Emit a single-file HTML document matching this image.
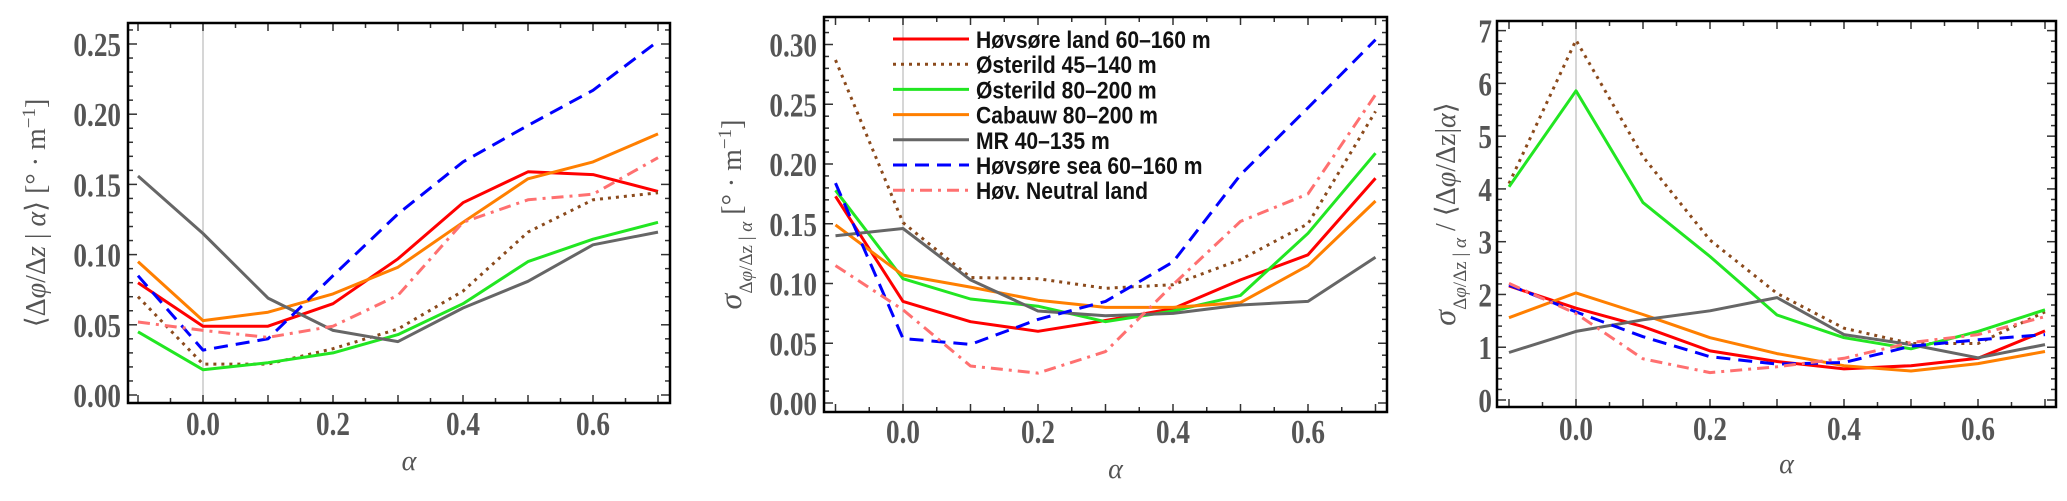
<!DOCTYPE html>
<html><head><meta charset="utf-8">
<style>
html,body{margin:0;padding:0;background:#fff;}
svg{display:block;}
text{font-family:"Liberation Serif",serif;}
.tl{font-weight:bold;fill:#555;font-size:34px;}
.leg{font-family:"Liberation Sans",sans-serif;font-weight:bold;font-size:24px;fill:#111;}
.ttl{fill:#555;font-size:28px;}
</style></head><body>
<svg id="chart" width="2067" height="501" viewBox="0 0 2067 501" xmlns="http://www.w3.org/2000/svg"></svg>
<script>
const alphas = [-0.1, 0, 0.1, 0.2, 0.3, 0.4, 0.5, 0.6, 0.7];
const seriesNames = ["Høvsøre land 60–160 m","Østerild 45–140 m","Østerild 80–200 m","Cabauw 80–200 m","MR 40–135 m","Høvsøre sea 60–160 m","Høv. Neutral land"];
// Panel 1: mean gradient
const meanHovLand  = [0.080,0.049,0.049,0.065,0.097,0.137,0.159,0.157,0.145];
const meanOst45    = [0.070,0.022,0.022,0.033,0.047,0.074,0.116,0.139,0.144];
const meanOst80    = [0.045,0.018,0.023,0.030,0.043,0.065,0.095,0.111,0.123];
const meanCabauw   = [0.095,0.053,0.059,0.072,0.091,0.123,0.154,0.166,0.186];
const meanMR       = [0.156,0.115,0.069,0.046,0.038,0.062,0.081,0.107,0.116];
const meanHovSea   = [0.085,0.032,0.040,0.085,0.129,0.166,0.192,0.217,0.252];
const meanHovNeut  = [0.052,0.046,0.041,0.049,0.071,0.123,0.139,0.143,0.169];
// Panel 2: std dev
const sdHovLand  = [0.173,0.085,0.068,0.060,0.069,0.079,0.103,0.124,0.188];
const sdOst45    = [0.287,0.151,0.105,0.104,0.096,0.099,0.120,0.150,0.244];
const sdOst80    = [0.178,0.104,0.087,0.081,0.068,0.077,0.090,0.142,0.209];
const sdCabauw   = [0.149,0.107,0.097,0.086,0.080,0.080,0.084,0.115,0.169];
const sdMR       = [0.140,0.146,0.103,0.077,0.073,0.075,0.082,0.085,0.122];
const sdHovSea   = [0.184,0.054,0.049,0.070,0.085,0.118,0.191,0.247,0.304];
const sdHovNeut  = [0.115,0.078,0.031,0.025,0.043,0.099,0.152,0.175,0.258];
// Panel 3: ratio
const rHovLand  = [2.16,1.74,1.39,0.93,0.73,0.59,0.65,0.79,1.31];
const rOst45    = [4.10,6.82,4.61,3.03,2.02,1.36,1.07,1.07,1.67];
const rOst80    = [4.04,5.86,3.74,2.72,1.61,1.18,0.97,1.30,1.71];
const rCabauw   = [1.56,2.03,1.62,1.18,0.88,0.65,0.55,0.69,0.92];
const rMR       = [0.90,1.30,1.52,1.69,1.94,1.24,1.05,0.80,1.05];
const rHovSea   = [2.18,1.67,1.20,0.82,0.68,0.71,1.02,1.14,1.24];
const rHovNeut  = [2.21,1.64,0.78,0.52,0.63,0.79,1.09,1.24,1.58];
const xTickLabels = ["0.0","0.2","0.4","0.6"];
const y1Ticks = ["0.00","0.05","0.10","0.15","0.20","0.25"];
const y2Ticks = ["0.00","0.05","0.10","0.15","0.20","0.25","0.30"];
const y3Ticks = ["0","1","2","3","4","5","6","7"];

const NS="http://www.w3.org/2000/svg";
const svg=document.getElementById('chart');
function mk(tag,attrs,parent){const e=document.createElementNS(NS,tag);for(const k in attrs)e.setAttribute(k,attrs[k]);(parent||svg).appendChild(e);return e;}

const styles=[
 {c:"#ff0000",d:""},
 {c:"#8b4a1c",d:"3,5"},
 {c:"#22e622",d:""},
 {c:"#ff7f00",d:""},
 {c:"#666666",d:""},
 {c:"#0000ff",d:"14,8"},
 {c:"#ff7070",d:"12,6,3,6"}
];
const slugs=["hovsore-land","osterild-45-140","osterild-80-200","cabauw","mr","hovsore-sea","hov-neutral-land"];

const panels=[
 {id:"mean",fx0:128,fx1:670,fy0:23,fy1:403,x0:203,xs:650,y0:395,ys:1404,yt:y1Ticks,ystep:0.05,yminor:0.01,yl:121,xly:435,aly:470,
  data:[meanHovLand,meanOst45,meanOst80,meanCabauw,meanMR,meanHovSea,meanHovNeut],tx:36,
  title:'⟨Δ<tspan font-style="italic">φ</tspan>/Δ<tspan font-style="italic">z</tspan> | <tspan font-style="italic">α</tspan>⟩    [° · m<tspan baseline-shift="super" font-size="19">−1</tspan>]'},
 {id:"sd",fx0:824,fx1:1387,fy0:17,fy1:412,x0:903,xs:675,y0:403,ys:1195,yt:y2Ticks,ystep:0.05,yminor:0.01,yl:817,xly:443,aly:478,
  data:[sdHovLand,sdOst45,sdOst80,sdCabauw,sdMR,sdHovSea,sdHovNeut],tx:732,
  title:'<tspan font-style="italic" font-size="32">σ</tspan><tspan baseline-shift="sub" font-size="19">Δ<tspan font-style="italic">φ</tspan>/Δz | <tspan font-style="italic">α</tspan></tspan>   [° · m<tspan baseline-shift="super" font-size="19">−1</tspan>]'},
 {id:"ratio",fx0:1497,fx1:2056,fy0:21,fy1:407,x0:1576,xs:670,y0:400,ys:52.77,yt:y3Ticks,ystep:1,yminor:0.2,yl:1492,xly:440,aly:473,
  data:[rHovLand,rOst45,rOst80,rCabauw,rMR,rHovSea,rHovNeut],tx:1446,
  title:'<tspan font-style="italic" font-size="32">σ</tspan><tspan baseline-shift="sub" font-size="19">Δ<tspan font-style="italic">φ</tspan>/Δz | <tspan font-style="italic">α</tspan></tspan> / ⟨Δ<tspan font-style="italic">φ</tspan>/Δz|<tspan font-style="italic">α</tspan>⟩'}
];

panels.forEach((p)=>{
  const g=mk('g',{});
  
  
  const X=v=>p.x0+p.xs*v, Y=v=>p.y0-p.ys*v;
  const zl=mk('line',{x1:X(0),x2:X(0),y1:p.fy0,y2:p.fy1,stroke:"#c8c8c8","stroke-width":1.5},g);
  
  
  for(let i=-2;i<=14;i++){const v=i*0.05;const px=X(v);if(px<p.fx0||px>p.fx1)continue;
    const L=(i%2===0)?8:5;
    mk('line',{x1:px,x2:px,y1:p.fy1,y2:p.fy1-L,stroke:"#333","stroke-width":1.5},g);
    mk('line',{x1:px,x2:px,y1:p.fy0,y2:p.fy0+L,stroke:"#333","stroke-width":1.5},g);}
  xTickLabels.forEach((t)=>{const v=parseFloat(t);
    const tx=mk('text',{x:0,y:0,"text-anchor":"middle",class:"tl",transform:`translate(${X(v)},${p.xly}) scale(0.8,1)`},g);tx.textContent=t;
    
    });
  const ymax=parseFloat(p.yt[p.yt.length-1]);
  const nMinor=Math.round((ymax+p.ystep*0.6)/p.yminor);
  for(let i=0;i<=nMinor;i++){const v=i*p.yminor;const py=Y(v);if(py<p.fy0+1)continue;
    const major=Math.abs(v/p.ystep-Math.round(v/p.ystep))<1e-6;const L=major?9:5;
    mk('line',{x1:p.fx0,x2:p.fx0+L,y1:py,y2:py,stroke:"#333","stroke-width":1.5},g);
    mk('line',{x1:p.fx1,x2:p.fx1-L,y1:py,y2:py,stroke:"#333","stroke-width":1.5},g);}
  p.yt.forEach((t)=>{const v=parseFloat(t);
    const tx=mk('text',{x:0,y:0,"text-anchor":"end",class:"tl",transform:`translate(${p.yl},${Y(v)+12}) scale(0.8,1)`},g);tx.textContent=t;
    
    });
  p.data.forEach((arr,si)=>{const pts=arr.map((v,i)=>X(alphas[i]).toFixed(1)+","+Y(v).toFixed(1)).join(" ");
    const a={points:pts,fill:"none",stroke:styles[si].c,"stroke-width":3,"stroke-linejoin":"round"};
    if(styles[si].d)a["stroke-dasharray"]=styles[si].d;
    const pl=mk('polyline',a,g);
    
    });
  const fr=mk('rect',{x:p.fx0,y:p.fy0,width:p.fx1-p.fx0,height:p.fy1-p.fy0,fill:"none",stroke:"#000","stroke-width":2.5},g);
  
  
  const cx=(p.fx0+p.fx1)/2+10;
  const xt=mk('text',{x:cx,y:p.aly,"text-anchor":"middle","font-style":"italic",class:"ttl","font-size":"34"},g);xt.textContent="α";
  
  
  const cy=(p.fy0+p.fy1)/2;
  const yt=mk('text',{x:0,y:0,"text-anchor":"middle",class:"ttl",transform:`translate(${p.tx+9},${cy}) rotate(-90)`},g);
  yt.innerHTML=p.title;
  
  
});

const lg=mk('g',{});


seriesNames.forEach((n,i)=>{const y=39+i*25.2;
  const e=mk('g',{},lg);
  
  
  const a={x1:893,x2:969,y1:y,y2:y,stroke:styles[i].c,"stroke-width":3};
  if(styles[i].d)a["stroke-dasharray"]=styles[i].d;
  mk('line',a,e);
  const t=mk('text',{x:0,y:0,class:"leg",transform:`translate(976,${y+9}) scale(0.88,1)`},e);t.textContent=n;});
</script>
</body></html>
